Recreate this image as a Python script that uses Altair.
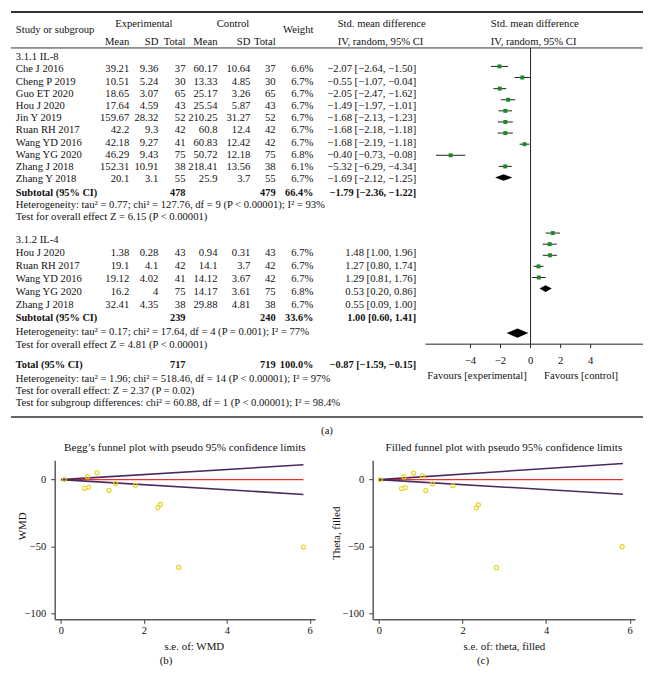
import altair as alt
import pandas as pd

# ------------------------------------------------------------------ data
IL8_STUDIES = ["Che J 2016", "Cheng P 2019", "Guo ET 2020", "Hou J 2020", "Jin Y 2019",
               "Ruan RH 2017", "Wang YD 2016", "Wang YG 2020", "Zhang J 2018", "Zhang Y 2018"]
IL8_EXP_MEAN = ["39.21", "10.51", "18.65", "17.64", "159.67", "42.2", "42.18", "46.29", "152.31", "20.1"]
IL8_EXP_SD = ["9.36", "5.24", "3.07", "4.59", "28.32", "9.3", "9.27", "9.43", "10.91", "3.1"]
IL8_EXP_N = [37, 30, 65, 43, 52, 42, 41, 75, 38, 55]
IL8_CTL_MEAN = ["60.17", "13.33", "25.17", "25.54", "210.25", "60.8", "60.83", "50.72", "218.41", "25.9"]
IL8_CTL_SD = ["10.64", "4.85", "3.26", "5.87", "31.27", "12.4", "12.42", "12.18", "13.56", "3.7"]
IL8_CTL_N = [37, 30, 65, 43, 52, 42, 42, 75, 38, 55]
IL8_WEIGHT = ["6.6%", "6.7%", "6.7%", "6.7%", "6.7%", "6.7%", "6.7%", "6.8%", "6.1%", "6.7%"]
IL8_SMD = [-2.07, -0.55, -2.05, -1.49, -1.68, -1.68, -1.68, -0.40, -5.32, -1.69]
IL8_LO = [-2.64, -1.07, -2.47, -1.97, -2.13, -2.18, -2.19, -0.73, -6.29, -2.12]
IL8_HI = [-1.50, -0.04, -1.62, -1.01, -1.23, -1.18, -1.18, -0.08, -4.34, -1.25]

IL4_STUDIES = ["Hou J 2020", "Ruan RH 2017", "Wang YD 2016", "Wang YG 2020", "Zhang J 2018"]
IL4_EXP_MEAN = ["1.38", "19.1", "19.12", "16.2", "32.41"]
IL4_EXP_SD = ["0.28", "4.1", "4.02", "4", "4.35"]
IL4_EXP_N = [43, 42, 41, 75, 38]
IL4_CTL_MEAN = ["0.94", "14.1", "14.12", "14.17", "29.88"]
IL4_CTL_SD = ["0.31", "3.7", "3.67", "3.61", "4.81"]
IL4_CTL_N = [43, 42, 42, 75, 38]
IL4_WEIGHT = ["6.7%", "6.7%", "6.7%", "6.8%", "6.7%"]
IL4_SMD = [1.48, 1.27, 1.29, 0.53, 0.55]
IL4_LO = [1.00, 0.80, 0.81, 0.20, 0.09]
IL4_HI = [1.96, 1.74, 1.76, 0.86, 1.00]

SUB_NAMES = ["3.1.1 IL-8", "3.1.2 IL-4"]
SUB_EXP_N = [478, 239]
SUB_CTL_N = [479, 240]
SUB_WEIGHT = ["66.4%", "33.6%"]
SUB_SMD = [-1.79, 1.00]
SUB_LO = [-2.36, 0.60]
SUB_HI = [-1.22, 1.41]
SUB_HET = ["Heterogeneity: tau² = 0.77; chi² = 127.76, df = 9 (P < 0.00001); I² = 93%",
           "Heterogeneity: tau² = 0.17; chi² = 17.64, df = 4 (P = 0.001); I² = 77%"]
SUB_TEST = ["Test for overall effect Z = 6.15 (P < 0.00001)",
            "Test for overall effect Z = 4.81 (P < 0.00001)"]

TOTAL_EXP_N = 717
TOTAL_CTL_N = 719
TOTAL_WEIGHT = "100.0%"
TOTAL_SMD, TOTAL_LO, TOTAL_HI = -0.87, -1.59, -0.15
TOTAL_NOTES = ["Heterogeneity: tau² = 1.96; chi² = 518.46, df = 14 (P < 0.00001); I² = 97%",
               "Test for overall effect: Z = 2.37 (P = 0.02)",
               "Test for subgroup differences: chi² = 60.88, df = 1 (P < 0.00001); I² = 98.4%"]

FOREST_TICKS = [-4, -2, 0, 2, 4]
FAVOURS = ["Favours [experimental]", "Favours [control]"]

# funnel plots
B_SE = [0.08, 0.64, 0.87, 0.57, 0.67, 1.16, 1.32, 1.80, 2.34, 2.40, 2.84, 5.85]
B_EFF = [0.2, 2.2, 5.1, -6.5, -5.8, -8.0, -2.9, -4.3, -21.0, -18.6, -65.7, -50.5]
B_LIMIT_END = [5.85, 11.1, -11.1]     # se, upper, lower at the right end
C_SE = [0.03, 0.60, 0.83, 1.04, 0.54, 0.63, 1.12, 1.28, 1.77, 2.33, 2.38, 2.81, 5.82]
C_EFF = [0.0, 2.0, 4.9, 2.9, -6.7, -6.0, -8.2, -3.1, -4.6, -21.2, -18.8, -65.9, -50.2]
C_LIMIT_END = [5.84, 12.1, -10.9]
FUNNEL_XTICKS = [0, 2, 4, 6]
FUNNEL_YTICKS = [0, -50, -100]

# ------------------------------------------------------------------ layout / style
FONT = "Liberation Serif"
FS = 10.7
FS_BOLD = 10.4
INK = "#111111"
GREEN = "#1d8a22"
TOP_W, TOP_H = 636, 430
REF_W, REF_H = 652, 440
X_TAB = alt.Scale(domain=[0, REF_W], nice=False, zero=False)
Y_TAB = alt.Scale(domain=[0, REF_H], reverse=True, nice=False, zero=False)
F_ZERO, F_UNIT = 536, 15.5           # forest origin and px per unit (layout)
F_ROW0, F_STEP = 57, 11.44            # forest row origin and step (layout)
X_FOR = alt.Scale(domain=[(0 - F_ZERO) / F_UNIT, (REF_W - F_ZERO) / F_UNIT], nice=False, zero=False)
Y_FOR = alt.Scale(domain=[1 - F_ROW0 / F_STEP, 1 + (REF_H - F_ROW0) / F_STEP],
                  reverse=True, nice=False, zero=False)

COL = {"name": 5, "exp_mean": 122, "exp_sd": 152, "exp_n": 180, "ctl_mean": 213,
       "ctl_sd": 247, "ctl_n": 273, "weight": 312, "ci": 418, "ci_head": 337, "forest_head": 495}
HEAD_Y = [13, 20, 32]
GROUP_HEAD_Y = [47, 236]
GROUP_ROW_Y = [[60, 72.6, 85.2, 97.8, 110.4, 123, 135.6, 148.2, 160.8, 173.4],
               [249, 262.5, 276, 289.5, 303]]
GROUP_SUB_Y = [187, 316.5]
GROUP_NOTE_Y = [[200, 212.5], [331, 344]]
TOTAL_Y = 364
TOTAL_NOTE_Y = [379, 391.5, 404]
FOREST_ROWS = [list(range(1, 11)), list(range(16, 21))]
FOREST_SUB_ROWS = [11, 21]
FOREST_TOTAL_ROW = 25
AXIS_Y, TICK_Y2, TICKLAB_Y, FAV_Y = 343, 347, 360, 376
LINES = {"y": [1, 38, 418], "w": [2.0, 1.0, 1.5]}


def fmt(v):
    return f"{v:.2f}".replace("-", "\u2212")


def ci_text(s, lo, hi):
    return f"{fmt(s)} [{fmt(lo)}, {fmt(hi)}]"


buckets = {k: [] for k in ["left", "left_b", "right", "right_b", "center"]}


def put(b, text, x, y):
    buckets[b].append({"text": str(text), "x": x, "y": y})


# header
put("left", "Study or subgroup", COL["name"], HEAD_Y[1])
put("center", "Experimental", 137, HEAD_Y[0])
put("center", "Control", 229, HEAD_Y[0])
put("right", "Weight", COL["weight"], HEAD_Y[1])
for lab, key in zip(["Mean", "SD", "Total", "Mean", "SD", "Total"],
                    ["exp_mean", "exp_sd", "exp_n", "ctl_mean", "ctl_sd", "ctl_n"]):
    put("right", lab, COL[key], HEAD_Y[2])
for key in ["ci_head", "forest_head"]:
    put("left", "Std. mean difference", COL[key], HEAD_Y[0])
    put("left", "IV, random, 95% CI", COL[key], HEAD_Y[2])

groups = [
    (IL8_STUDIES, IL8_EXP_MEAN, IL8_EXP_SD, IL8_EXP_N, IL8_CTL_MEAN, IL8_CTL_SD, IL8_CTL_N,
     IL8_WEIGHT, IL8_SMD, IL8_LO, IL8_HI),
    (IL4_STUDIES, IL4_EXP_MEAN, IL4_EXP_SD, IL4_EXP_N, IL4_CTL_MEAN, IL4_CTL_SD, IL4_CTL_N,
     IL4_WEIGHT, IL4_SMD, IL4_LO, IL4_HI),
]
ci_rows = []
for g, grp in enumerate(groups):
    put("left", SUB_NAMES[g], COL["name"], GROUP_HEAD_Y[g])
    for k, row in enumerate(zip(*grp)):
        name, em, es, en, cm, cs, cn, w, s, lo, hi = row
        y = GROUP_ROW_Y[g][k]
        put("left", name, COL["name"], y)
        for key, val in zip(["exp_mean", "exp_sd", "exp_n", "ctl_mean", "ctl_sd", "ctl_n", "weight"],
                            [em, es, en, cm, cs, cn, w]):
            put("right", val, COL[key], y)
        put("right", ci_text(s, lo, hi), COL["ci"], y)
        ci_rows.append({"smd": s, "lo": lo, "hi": hi, "row": FOREST_ROWS[g][k]})
    ys = GROUP_SUB_Y[g]
    put("left_b", "Subtotal (95% CI)", COL["name"], ys)
    put("right_b", SUB_EXP_N[g], COL["exp_n"], ys)
    put("right_b", SUB_CTL_N[g], COL["ctl_n"], ys)
    put("right_b", SUB_WEIGHT[g], COL["weight"], ys)
    put("right_b", ci_text(SUB_SMD[g], SUB_LO[g], SUB_HI[g]), COL["ci"], ys)
    put("left", SUB_HET[g], COL["name"], GROUP_NOTE_Y[g][0])
    put("left", SUB_TEST[g], COL["name"], GROUP_NOTE_Y[g][1])

put("left_b", "Total (95% CI)", COL["name"], TOTAL_Y)
put("right_b", TOTAL_EXP_N, COL["exp_n"], TOTAL_Y)
put("right_b", TOTAL_CTL_N, COL["ctl_n"], TOTAL_Y)
put("right_b", TOTAL_WEIGHT, COL["weight"], TOTAL_Y)
put("right_b", ci_text(TOTAL_SMD, TOTAL_LO, TOTAL_HI), COL["ci"], TOTAL_Y)
for note, y in zip(TOTAL_NOTES, TOTAL_NOTE_Y):
    put("left", note, COL["name"], y)
put("center", "(a)", 326, 432)

# diamonds
dia = []
for k, (s, lo, hi, r, h) in enumerate(
        list(zip(SUB_SMD, SUB_LO, SUB_HI, FOREST_SUB_ROWS, [0.3, 0.3]))
        + [(TOTAL_SMD, TOTAL_LO, TOTAL_HI, FOREST_TOTAL_ROW, 0.42)]):
    dia += [{"g": k, "x": lo, "ya": r, "yb": r},
            {"g": k, "x": s, "ya": r - h, "yb": r + h},
            {"g": k, "x": hi, "ya": r, "yb": r}]

# ------------------------------------------------------------------ top panel (a)
def tx(xs=X_TAB, field="x"):
    return alt.X(f"{field}:Q", scale=xs, axis=None)


def ty(ys=Y_TAB, field="y"):
    return alt.Y(f"{field}:Q", scale=ys, axis=None)


layers = []
line_df = pd.DataFrame({"x": 0, "x2": REF_W, "y": LINES["y"], "w": LINES["w"]})
layers.append(alt.Chart(line_df).mark_rule(color="#333333").encode(
    x=tx(), x2="x2:Q", y=ty(), strokeWidth=alt.StrokeWidth("w:Q", scale=None, legend=None)))

styles = {"left": ("left", "normal"), "left_b": ("left", "bold"), "right": ("right", "normal"),
          "right_b": ("right", "bold"), "center": ("center", "normal")}
for key, (al, wt) in styles.items():
    layers.append(alt.Chart(pd.DataFrame(buckets[key])).mark_text(
        align=al, baseline="middle", font=FONT, fontSize=FS_BOLD if wt == "bold" else FS,
        fontWeight=wt, color=INK).encode(x=tx(), y=ty(), text="text:N"))

# forest: zero line, axis, ticks, labels
layers.append(alt.Chart(pd.DataFrame({"x": [0], "y": [38], "y2": [AXIS_Y]})).mark_rule(
    color="#222222", strokeWidth=1).encode(x=tx(X_FOR), y=ty(), y2="y2:Q"))
layers.append(alt.Chart(pd.DataFrame({"x": [-7], "x2": [(REF_W - F_ZERO) / F_UNIT], "y": [AXIS_Y]}))
              .mark_rule(color="#222222", strokeWidth=1).encode(x=tx(X_FOR), x2="x2:Q", y=ty()))
layers.append(alt.Chart(pd.DataFrame({"x": FOREST_TICKS, "y": AXIS_Y, "y2": TICK_Y2})).mark_rule(
    color="#222222", strokeWidth=1).encode(x=tx(X_FOR), y=ty(), y2="y2:Q"))
layers.append(alt.Chart(pd.DataFrame({"x": FOREST_TICKS,
                                      "text": [str(t).replace("-", "\u2212") for t in FOREST_TICKS],
                                      "y": TICKLAB_Y})).mark_text(
    align="center", baseline="middle", font=FONT, fontSize=FS, color=INK).encode(
    x=tx(X_FOR), y=ty(), text="text:N"))
layers.append(alt.Chart(pd.DataFrame({"x": [-0.25], "y": [FAV_Y], "text": [FAVOURS[0]]})).mark_text(
    align="right", baseline="middle", font=FONT, fontSize=FS, color=INK).encode(
    x=tx(X_FOR), y=ty(), text="text:N"))
layers.append(alt.Chart(pd.DataFrame({"x": [0.9], "y": [FAV_Y], "text": [FAVOURS[1]]})).mark_text(
    align="left", baseline="middle", font=FONT, fontSize=FS, color=INK).encode(
    x=tx(X_FOR), y=ty(), text="text:N"))

ci_df = pd.DataFrame(ci_rows)
layers.append(alt.Chart(ci_df).mark_rule(color="#222222", strokeWidth=1).encode(
    x=tx(X_FOR, "lo"), x2="hi:Q", y=ty(Y_FOR, "row")))
layers.append(alt.Chart(ci_df).mark_square(color=GREEN, size=16, opacity=1).encode(
    x=tx(X_FOR, "smd"), y=ty(Y_FOR, "row")))
layers.append(alt.Chart(pd.DataFrame(dia)).mark_area(color="black", orient="vertical").encode(
    x=tx(X_FOR, "x"), y=ty(Y_FOR, "ya"), y2="yb:Q", detail="g:N"))

top = alt.layer(*layers).resolve_scale(x="independent", y="independent").properties(
    width=TOP_W, height=TOP_H)

# ------------------------------------------------------------------ funnel plots
PURPLE = "#4a2a5c"
RED = "#e8312f"
YELLOW = "#e6d21a"


def funnel(se, eff, lim, title, ytitle, xtitle, width, title_y, ytitle_x, title_x=None):
    xs = alt.Scale(domain=[-0.15, 6.13], nice=False, zero=False)
    ys = alt.Scale(domain=[-104.5, 14.5], nice=False, zero=False)
    xax = dict(values=FUNNEL_XTICKS, title=xtitle, labelPadding=2.5, titlePadding=4)
    if title_x is not None:
        xax["titleX"] = title_x
    xenc = alt.X("se:Q", scale=xs, axis=alt.Axis(**xax))
    yenc = alt.Y("eff:Q", scale=ys, axis=alt.Axis(values=FUNNEL_YTICKS, title=ytitle, titleY=title_y,
                                                  titleX=ytitle_x, titleBaseline="middle",
                                                  labelPadding=5))
    pts = pd.DataFrame({"se": se, "eff": eff})
    lim_df = pd.DataFrame({"se": [0, lim[0], 0, lim[0]], "eff": [0, lim[1], 0, lim[2]],
                           "grp": ["u", "u", "l", "l"]})
    mid_df = pd.DataFrame({"se": [0, lim[0]], "eff": [0, 0]})
    l1 = alt.Chart(mid_df).mark_line(color=RED, strokeWidth=1.2).encode(x=xenc, y=yenc)
    l2 = alt.Chart(lim_df).mark_line(color=PURPLE, strokeWidth=1.6).encode(x=xenc, y=yenc, detail="grp:N")
    p = alt.Chart(pts).mark_point(shape="circle", filled=False, size=17, color=YELLOW,
                                  strokeWidth=1.1, opacity=1).encode(x=xenc, y=yenc)
    return alt.layer(l1, l2, p).properties(
        width=width, height=160,
        title=alt.Title(title, anchor="middle", frame="group", offset=7))


fb = funnel(B_SE, B_EFF, B_LIMIT_END, "Begg\u2019s funnel plot with pseudo 95% confidence limits",
            "WMD", "s.e. of: WMD", 262, 66, -32, title_x=140)
fc = funnel(C_SE, C_EFF, C_LIMIT_END, "Filled funnel plot with pseudo 95% confidence limits",
            "Theta, filled", "s.e. of: theta, filled", 264, 73, -36)
cap = dict(orient="bottom", anchor="middle", offset=4, fontSize=11)
b_panel = alt.vconcat(fb, title=alt.Title("(b)", **cap))
c_panel = alt.vconcat(fc, title=alt.Title("(c)", **cap))
spacer = alt.Chart(pd.DataFrame({"v": [0]})).mark_point(opacity=0).encode(
    x=alt.value(0), y=alt.value(0)).properties(width=6, height=10)
bottom = alt.hconcat(alt.hconcat(spacer, b_panel, spacing=0), c_panel, spacing=16)

chart = alt.vconcat(top, bottom, spacing=3, padding=0, background="white").configure_view(
    stroke=None).configure_axis(
    grid=False, domainColor="#5a5a5a", domainWidth=1.5, tickColor="#5a5a5a", tickWidth=1.2, tickSize=4,
    labelFont=FONT, labelFontSize=10.5, labelColor=INK, titleFont=FONT, titleFontSize=11,
    titleFontWeight="normal", titleColor=INK).configure_title(
    font=FONT, fontSize=11.2, fontWeight="normal", color=INK)

chart.save("out.html", embed_options={"renderer": "svg", "actions": False})
